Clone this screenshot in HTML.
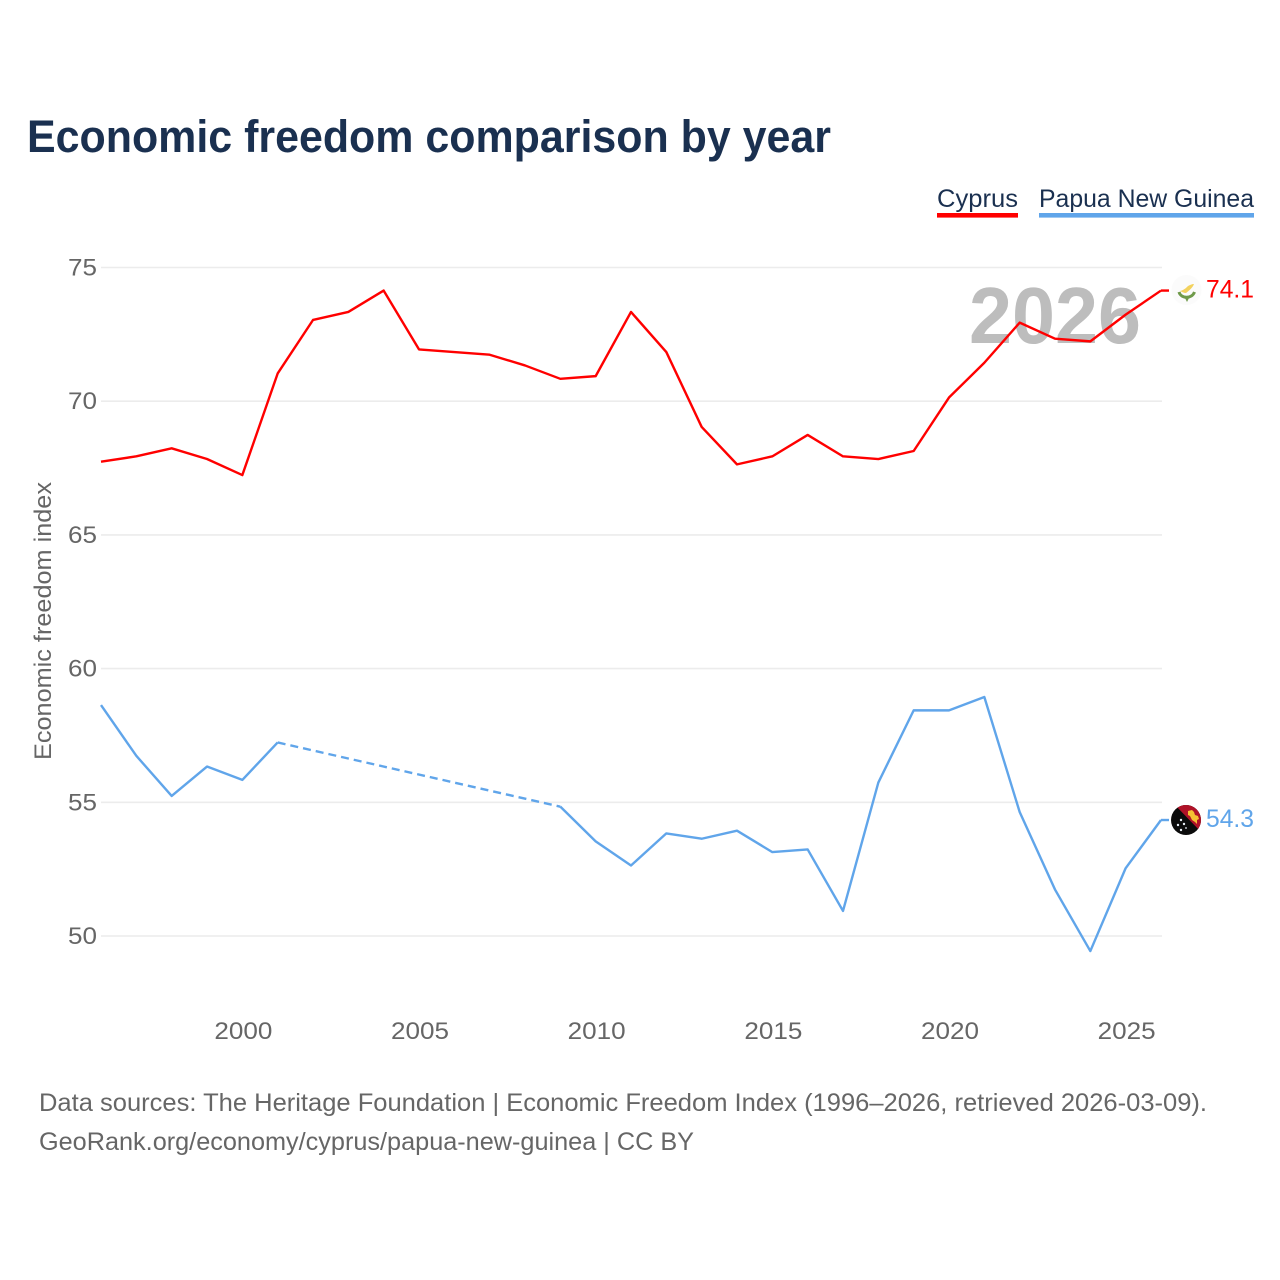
<!DOCTYPE html>
<html>
<head>
<meta charset="utf-8">
<title>Economic freedom comparison by year</title>
<style>
html,body{margin:0;padding:0;background:#fff;}
svg{display:block;font-family:"Liberation Sans",sans-serif;}
</style>
</head>
<body>
<svg id="chart" xmlns="http://www.w3.org/2000/svg" width="1280" height="1280" viewBox="0 0 1280 1280">
  <rect width="1280" height="1280" fill="#ffffff"/>
  <text x="27" y="152" font-size="45" font-weight="700" fill="#1a3050" textLength="804" lengthAdjust="spacingAndGlyphs">Economic freedom comparison by year</text>

  <g>
    <text x="937" y="207" font-size="25" fill="#1a3050" textLength="81" lengthAdjust="spacingAndGlyphs">Cyprus</text>
    <rect x="937" y="213" width="81" height="4.6" fill="#ff0000"/>
  </g>
  <g>
    <text x="1039" y="207" font-size="25" fill="#1a3050" textLength="215" lengthAdjust="spacingAndGlyphs">Papua New Guinea</text>
    <rect x="1039" y="213" width="215" height="4.6" fill="#60a5ea"/>
  </g>

  <g id="grid"></g>
  <text x="969" y="343" font-size="80" font-weight="700" fill="#bdbdbd" textLength="172" lengthAdjust="spacingAndGlyphs">2026</text>
  <g id="yticks"></g>
  <g id="xticks"></g>
  <text transform="translate(51,621) rotate(-90)" text-anchor="middle" font-size="24" fill="#666666" textLength="278" lengthAdjust="spacingAndGlyphs">Economic freedom index</text>
  <g id="series"></g>

  <g>
    <circle cx="1186.500" cy="290" r="15" fill="#fbfbfb"/>
    <path d="M1179 292 C1181 299 1192 299 1194.500 292" fill="none" stroke="#6f9a4a" stroke-width="3"/>
    <path d="M1185 298 l2 4 l2 -4 z" fill="#6f9a4a"/>
    <path d="M1180 291 C1184 290 1186 288 1188 286 C1190 285 1192 284 1194 284 C1193 287 1190 290 1186 293 C1184 293 1182 292 1180 291 Z" fill="#f3d25e"/>
  </g>
  <g>
    <clipPath id="pngClip"><circle cx="1186" cy="820" r="15"/></clipPath>
    <g clip-path="url(#pngClip)">
      <rect x="1171" y="805" width="30" height="30" fill="#0b0b0b"/>
      <path d="M1175 805 L1201 805 L1201 832 Z" fill="#b01228"/>
      <path d="M1188 811 l4 -1 l2 2 l1 3 l3 1 l1 3 l-2 1 l0 4 l-2 -2 l-3 -2 l-2 -4 l-2 -1 z" fill="#f6c033"/>
      <circle cx="1181" cy="820" r="1.200" fill="#e8eef5"/>
      <circle cx="1178" cy="825" r="1.200" fill="#e8eef5"/>
      <circle cx="1184" cy="824" r="1.200" fill="#e8eef5"/>
      <circle cx="1181" cy="830" r="1.200" fill="#e8eef5"/>
      <circle cx="1186" cy="828" r="0.900" fill="#e8eef5"/>
    </g>
  </g>

  <text x="39" y="1111" font-size="25" fill="#666666" textLength="1168" lengthAdjust="spacingAndGlyphs">Data sources: The Heritage Foundation | Economic Freedom Index (1996–2026, retrieved 2026-03-09).</text>
  <text x="39" y="1150" font-size="25" fill="#666666" textLength="655" lengthAdjust="spacingAndGlyphs">GeoRank.org/economy/cyprus/papua-new-guinea | CC BY</text>
</svg>
<script>
const years = [1996,1997,1998,1999,2000,2001,2002,2003,2004,2005,2006,2007,2008,2009,2010,2011,2012,2013,2014,2015,2016,2017,2018,2019,2020,2021,2022,2023,2024,2025,2026];
const cyprusValues = [67.7,67.9,68.2,67.8,67.2,71.0,73.0,73.3,74.1,71.9,71.8,71.7,71.3,70.8,70.9,73.3,71.8,69.0,67.6,67.9,68.7,67.9,67.8,68.1,70.1,71.4,72.9,72.3,72.2,73.2,74.1];
const pngValues = [58.6,56.7,55.2,56.3,55.8,57.2,null,null,null,null,null,null,null,54.8,53.5,52.6,53.8,53.6,53.9,53.1,53.2,50.9,55.7,58.4,58.4,58.9,54.6,51.7,49.4,52.5,54.3];
const yTickValues = [50,55,60,65,70,75];
const xTickValues = [2000,2005,2010,2015,2020,2025];

const NS = 'http://www.w3.org/2000/svg';
function xScale(year){ return 101 + (year - 1996) * (1060 / 30); }
function yScale(v){ return 935 - (v - 50) * 26.74; }
function make(tag, attrs, parent){
  const el = document.createElementNS(NS, tag);
  for (const k in attrs) el.setAttribute(k, attrs[k]);
  parent.appendChild(el);
  return el;
}

const grid = document.getElementById('grid');
const yticks = document.getElementById('yticks');
const xticks = document.getElementById('xticks');
const series = document.getElementById('series');

yTickValues.forEach(function(v){
  const line = make('line', {x1:101, x2:1162, y1:yScale(v)+1, y2:yScale(v)+1, stroke:'#ececec', 'stroke-width':1.6}, grid);
  
  
  const label = make('text', {x:97, y:yScale(v)+9, 'text-anchor':'end', 'font-size':24.5, fill:'#666666', textLength:29, lengthAdjust:'spacingAndGlyphs'}, yticks);
  
  
  label.textContent = v;
});

xTickValues.forEach(function(y){
  const label = make('text', {x:xScale(y)+1, y:1039, 'text-anchor':'middle', 'font-size':24.5, fill:'#666666', textLength:58, lengthAdjust:'spacingAndGlyphs'}, xticks);
  
  
  label.textContent = y;
});

function drawSeries(values, color, key){
  let solid = '';
  let dashed = '';
  let prev = -1;
  let pen = false;
  values.forEach(function(v, i){
    if (v === null) { pen = false; return; }
    const px = xScale(years[i]).toFixed(2) + ' ' + yScale(v).toFixed(2);
    if (prev >= 0 && i - prev > 1) {
      dashed += 'M' + xScale(years[prev]).toFixed(2) + ' ' + yScale(values[prev]).toFixed(2) + 'L' + px;
    }
    solid += (pen ? 'L' : 'M') + px;
    pen = true;
    prev = i;
  });
  const last = values[values.length - 1];
  const lastY = yScale(last);
  const lineEl = make('path', {d:solid, fill:'none', stroke:color, 'stroke-width':2.4, 'stroke-linejoin':'round'}, series);
  
  
  if (dashed) {
    const dashEl = make('path', {d:dashed, fill:'none', stroke:color, 'stroke-width':2.4, 'stroke-dasharray':'8 5'}, series);
    
    
  }
  const lead = make('line', {x1:1161, x2:1169, y1:lastY, y2:lastY, stroke:color, 'stroke-width':2.4}, series);
  
  
  const endLabel = make('text', {x:1206, y:lastY+7, 'font-size':25, fill:color, textLength:48, lengthAdjust:'spacingAndGlyphs'}, series);
  
  
  endLabel.textContent = last.toFixed(1);
}

drawSeries(pngValues, '#60a5ea', 'papua-new-guinea');
drawSeries(cyprusValues, '#ff0000', 'cyprus');
</script>
</body>
</html>
